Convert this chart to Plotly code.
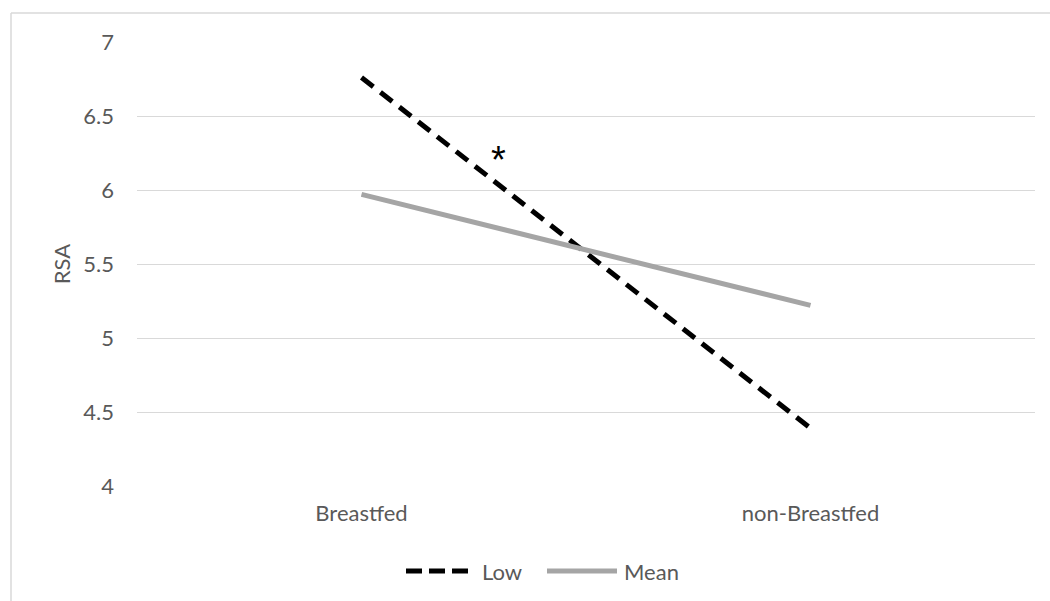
import plotly.graph_objects as go

categories = ["Breastfed", "non-Breastfed"]
low_values = [6.76, 4.39]
mean_values = [5.97, 5.22]
series_names = ["Low", "Mean"]
y_tick_values = [4, 4.5, 5, 5.5, 6, 6.5, 7]
y_tick_labels = ["4", "4.5", "5", "5.5", "6", "6.5", "7"]
y_title = "RSA"
star_label = "*"
star_pos = (0.30, 6.26)

W, H = 1050, 601
L, R, T, B = 137, 15, 42, 115
pw, ph = W - L - R, H - T - B

def px_x(p):
    return (p - L) / pw

def px_y(p):
    return (H - B - p) / ph

FONT = "Lato"
FS = 22
TXT = "#595959"
GRID = "#D9D9D9"
LOW_C = "#000000"
MEAN_C = "#A5A5A5"

fig = go.Figure()
fig.add_trace(go.Scatter(x=categories, y=low_values, name=series_names[0], mode="lines",
                         line=dict(color=LOW_C, width=5, dash="15px,9px")))
fig.add_trace(go.Scatter(x=categories, y=mean_values, name=series_names[1], mode="lines",
                         line=dict(color=MEAN_C, width=5)))

fig.add_annotation(x=star_pos[0], y=star_pos[1], text=star_label, showarrow=False,
                   font=dict(family="Liberation Sans", size=38, color="#000000"), yshift=-8, xshift=2)

# legend drawn as samples + text (to match long line samples)
ly = px_y(571)
fig.add_shape(type="line", xref="paper", yref="paper", x0=px_x(406), x1=px_x(468), y0=ly, y1=ly,
              line=dict(color=LOW_C, width=5, dash="16px,7px"))
fig.add_annotation(xref="paper", yref="paper", x=px_x(480), y=ly, text=series_names[0], showarrow=False,
                   xanchor="left", yanchor="middle", font=dict(family=FONT, size=FS, color=TXT))
fig.add_shape(type="line", xref="paper", yref="paper", x0=px_x(547), x1=px_x(617), y0=ly, y1=ly,
              line=dict(color=MEAN_C, width=5))
fig.add_annotation(xref="paper", yref="paper", x=px_x(622), y=ly, text=series_names[1], showarrow=False,
                   xanchor="left", yanchor="middle", font=dict(family=FONT, size=FS, color=TXT))

# chart border (top and left visible)
fig.add_shape(type="line", xref="paper", yref="paper", x0=px_x(11), x1=px_x(1060), y0=px_y(13), y1=px_y(13),
              line=dict(color=GRID, width=1.5))
fig.add_shape(type="line", xref="paper", yref="paper", x0=px_x(11), x1=px_x(11), y0=px_y(13), y1=px_y(610),
              line=dict(color=GRID, width=1.5))

fig.update_layout(
    width=W, height=H,
    margin=dict(l=L, r=R, t=T, b=B),
    paper_bgcolor="white", plot_bgcolor="white",
    showlegend=False,
    font=dict(family=FONT, size=FS, color=TXT),
)
fig.update_xaxes(type="category", range=[-0.5, 1.5], showgrid=False, zeroline=False,
                 showline=False, ticks="", tickfont=dict(family=FONT, size=FS, color=TXT),
                 ticklabelstandoff=12)
fig.update_yaxes(range=[4, 7], tickvals=y_tick_values, ticktext=y_tick_labels,
                 showgrid=True, gridcolor=GRID, gridwidth=1.3, zeroline=False, showline=False,
                 ticks="", tickfont=dict(family=FONT, size=FS, color=TXT), ticklabelstandoff=22,
                 automargin=False,
                 title=dict(text=y_title, font=dict(family=FONT, size=FS, color=TXT), standoff=6))

fig.write_html("out.html", config={"displayModeBar": False},
               post_script="document.body.style.margin='0';document.body.style.overflow='hidden';")
